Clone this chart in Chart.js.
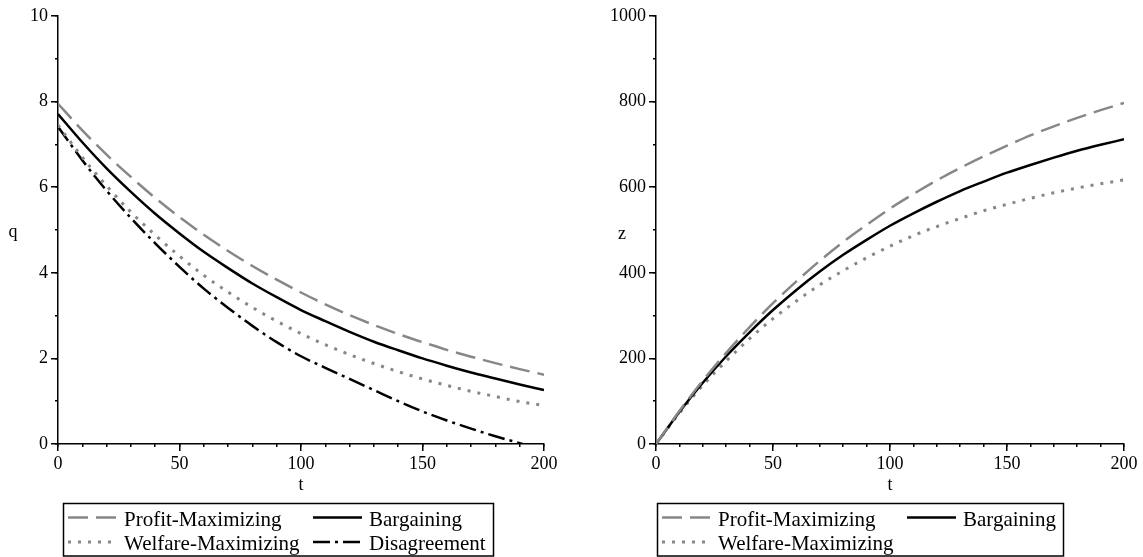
<!DOCTYPE html>
<html>
<head>
<meta charset="utf-8">
<script src="https://cdn.jsdelivr.net/npm/chart.js@4.4.1/dist/chart.umd.min.js"></script>
<style>
  body { margin: 0; background: #fff; }
  #wrap { position: relative; width: 1143px; height: 557px; }
  canvas { position: absolute; top: 0; }
</style>
</head>
<body>
<div id="wrap">
  <canvas id="qChart" width="570" height="557" style="left:0"></canvas>
  <canvas id="zChart" width="573" height="557" style="left:570px"></canvas>
</div>
<script>
// time grid (t)
const tValues = [0, 10, 20, 30, 40, 50, 60, 70, 80, 90, 100, 110, 120, 130, 140, 150, 160, 170, 180, 190, 200];

// left panel: q
const qProfit = [7.95, 7.33, 6.76, 6.24, 5.75, 5.30, 4.89, 4.51, 4.16, 3.84, 3.54, 3.26, 3.01, 2.78, 2.57, 2.38, 2.20, 2.04, 1.89, 1.75, 1.62];
const qBargaining = [7.71, 7.05, 6.44, 5.89, 5.38, 4.92, 4.49, 4.11, 3.75, 3.43, 3.13, 2.87, 2.62, 2.39, 2.19, 2.00, 1.83, 1.67, 1.53, 1.39, 1.26];
const qWelfare = [7.45, 6.70, 6.03, 5.42, 4.88, 4.39, 3.94, 3.55, 3.19, 2.87, 2.58, 2.32, 2.09, 1.88, 1.69, 1.52, 1.37, 1.23, 1.11, 0.99, 0.90];
const qDisagreement = [7.41, 6.63, 5.92, 5.28, 4.69, 4.14, 3.63, 3.18, 2.76, 2.38, 2.05, 1.78, 1.52, 1.26, 1.00, 0.76, 0.55, 0.36, 0.18, 0.02, -0.14];

// right panel: z
const zProfit = [0, 77, 148, 213, 273, 329, 380, 428, 472, 512, 550, 584, 616, 645, 672, 697, 721, 742, 762, 780, 797];
const zBargaining = [0, 75, 143, 205, 261, 313, 360, 403, 442, 477, 510, 539, 566, 591, 613, 634, 652, 669, 685, 699, 712];
const zWelfare = [0, 72, 137, 194, 246, 293, 334, 372, 405, 435, 462, 487, 508, 527, 545, 560, 574, 587, 598, 608, 617];

const seriesNames = ["Profit-Maximizing", "Bargaining", "Welfare-Maximizing", "Disagreement"];

Chart.defaults.font.family = "'Liberation Serif', 'Times New Roman', serif";
Chart.defaults.color = "#000";

const GRAY = "#878787";

function toPoints(values) {
  return values.map((v, i) => ({ x: tValues[i], y: v }));
}

// legend in a framed box + upright y name
const boxLegend = {
  id: "boxLegend",
  afterDraw(chart, args, opts) {
    const ctx = chart.ctx;
    ctx.save();
    ctx.strokeStyle = "#000";
    ctx.lineWidth = 1.5;
    ctx.strokeRect(opts.box[0], opts.box[1], opts.box[2], opts.box[3]);
    ctx.font = "21px 'Liberation Serif'";
    ctx.fillStyle = "#000";
    ctx.textBaseline = "alphabetic";
    ctx.textAlign = "left";
    opts.items.forEach((it) => {
      const ds = chart.data.datasets[it.index];
      ctx.beginPath();
      ctx.setLineDash(ds.borderDash || []);
      ctx.strokeStyle = ds.borderColor;
      ctx.lineWidth = ds.borderWidth;
      ctx.moveTo(it.x, it.y);
      ctx.lineTo(it.x + 49, it.y);
      ctx.stroke();
      ctx.setLineDash([]);
      ctx.fillText(ds.label, it.x + 56, it.y + 8);
    });
    ctx.font = "18px 'Liberation Serif'";
    ctx.textAlign = "center";
    ctx.fillText(opts.yName, opts.yNameX, opts.yNameY);
    ctx.restore();
  }
};

function makeScales(yMax, yMajor, yMinor, yWidth) {
  return {
    x: {
      type: "linear", position: "bottom", min: 0, max: 200, weight: 1,
      afterFit: (s) => { s.height = 52; },
      border: { color: "#000", width: 1.5 },
      grid: { drawOnChartArea: false, tickLength: 7, color: "#000", lineWidth: 1.5 },
      ticks: { stepSize: 50, padding: 2, maxRotation: 0, autoSkip: false, font: { size: 18 } },
      title: { display: true, text: "t", font: { size: 18 }, padding: 0 }
    },
    xMinor: {
      type: "linear", position: "bottom", min: 0, max: 200, weight: 0,
      afterFit: (s) => { s.height = 0; },
      border: { display: false },
      grid: { drawOnChartArea: false, tickLength: 3, color: "#000", lineWidth: 1.5 },
      ticks: { stepSize: 10, display: false, autoSkip: false }
    },
    y: {
      type: "linear", position: "left", min: 0, max: yMax, weight: 1,
      afterFit: (s) => { s.width = yWidth; },
      border: { color: "#000", width: 1.5 },
      grid: { drawOnChartArea: false, tickLength: 7, color: "#000", lineWidth: 1.5 },
      ticks: {
        stepSize: yMajor, padding: 3, autoSkip: false, font: { size: 18 },
        callback: (v) => String(v)
      }
    },
    yMinor: {
      type: "linear", position: "left", min: 0, max: yMax, weight: 0,
      afterFit: (s) => { s.width = 0; },
      border: { display: false },
      grid: { drawOnChartArea: false, tickLength: 3, color: "#000", lineWidth: 1.5 },
      ticks: { stepSize: yMinor, display: false, autoSkip: false }
    }
  };
}

const profitStyle = { borderColor: GRAY, borderWidth: 2.5, borderDash: [20, 8] };
const bargainStyle = { borderColor: "#000", borderWidth: 2.5 };
const welfareStyle = { borderColor: GRAY, borderWidth: 3, borderDash: [3, 7] };
const disagreeStyle = { borderColor: "#000", borderWidth: 2.5, borderDash: [17, 5, 3, 5] };

function line(name, values, style) {
  return Object.assign({
    label: name,
    data: toPoints(values),
    pointRadius: 0,
    fill: false,
    cubicInterpolationMode: "monotone",
    xAxisID: "x",
    yAxisID: "y"
  }, style);
}

// LEFT: q
new Chart(document.getElementById("qChart"), {
  type: "line",
  data: {
    datasets: [
      line(seriesNames[0], qProfit, profitStyle),
      line(seriesNames[1], qBargaining, bargainStyle),
      line(seriesNames[2], qWelfare, welfareStyle),
      line(seriesNames[3], qDisagreement, disagreeStyle)
    ]
  },
  options: {
    responsive: false,
    animation: false,
    layout: { padding: { left: 0, top: 16, right: 26, bottom: 61 } },
    scales: makeScales(10, 2, 1, 58),
    plugins: {
      legend: { display: false },
      tooltip: { enabled: false },
      boxLegend: {
        box: [63.5, 503.5, 430, 52.5],
        items: [
          { index: 0, x: 68, y: 517.5 },
          { index: 1, x: 313, y: 517.5 },
          { index: 2, x: 68, y: 542 },
          { index: 3, x: 313, y: 542 }
        ],
        yName: "q", yNameX: 13, yNameY: 237
      }
    }
  },
  plugins: [boxLegend]
});

// RIGHT: z
new Chart(document.getElementById("zChart"), {
  type: "line",
  data: {
    datasets: [
      line(seriesNames[0], zProfit, profitStyle),
      line(seriesNames[1], zBargaining, bargainStyle),
      line(seriesNames[2], zWelfare, welfareStyle)
    ]
  },
  options: {
    responsive: false,
    animation: false,
    layout: { padding: { left: 0, top: 16, right: 19, bottom: 61 } },
    scales: makeScales(1000, 200, 100, 86),
    plugins: {
      legend: { display: false },
      tooltip: { enabled: false },
      boxLegend: {
        box: [87.5, 503.5, 406, 52.5],
        items: [
          { index: 0, x: 92, y: 517.5 },
          { index: 1, x: 337, y: 517.5 },
          { index: 2, x: 92, y: 542 }
        ],
        yName: "z", yNameX: 52, yNameY: 239
      }
    }
  },
  plugins: [boxLegend]
});
</script>
</body>
</html>
